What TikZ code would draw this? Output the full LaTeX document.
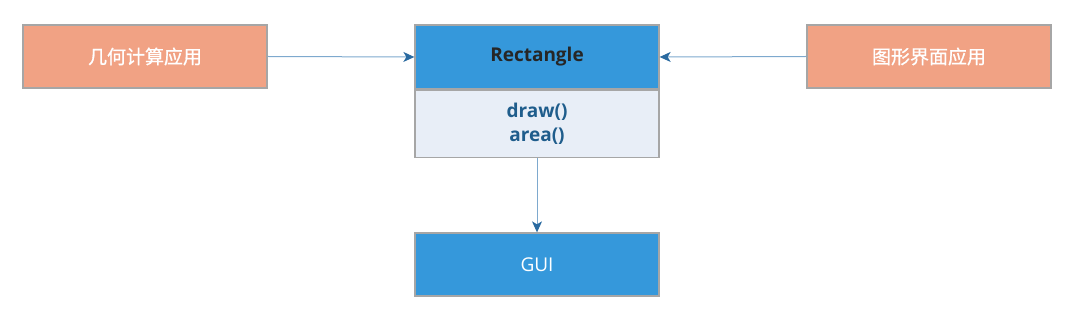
\documentclass[tikz,border=0pt]{standalone}
\usepackage{fontspec}
\setmainfont{Open Sans}
\newfontfamily\cjk[BoldFont={Noto Sans CJK SC}, BoldFeatures={FakeBold=0.8}]{Noto Sans CJK SC}
\usepackage{xcolor}
\usetikzlibrary{arrows.meta, positioning}

\definecolor{appfill}{HTML}{F1A284}
\definecolor{classblue}{HTML}{3598DB}
\definecolor{bodyfill}{HTML}{E8EEF7}
\definecolor{edgegray}{HTML}{A6A6A6}
\definecolor{methodtext}{HTML}{1F5D8C}
\definecolor{linkline}{HTML}{7EA9CE}
\definecolor{linkhead}{HTML}{2A6AA0}

\begin{document}
\begin{tikzpicture}[
    x=1pt, y=-1pt,
    box/.style={
        draw=edgegray,
        line width=1.3pt,
        minimum width=244pt,
        minimum height=63pt,
        inner sep=0pt,
        align=center
    },
    app/.style={box, fill=appfill, text=white, font=\cjk\bfseries\fontsize{19}{22}\selectfont},
    head/.style={box, fill=classblue, minimum height=64pt, font=\fontsize{19}{22}\selectfont\bfseries, text=black!85},
    body/.style={box, fill=bodyfill, minimum height=67pt, font=\fontsize{19}{24}\selectfont\bfseries, text=methodtext},
    link/.style={draw=linkline, line width=1pt, -{Stealth[length=11pt, width=10pt, inset=3pt, color=linkhead]}}
]

\useasboundingbox (0,0) rectangle (1076,320);

\node[head] (rect) at (537,57) {Rectangle};
\node[body, below=0pt of rect] (methods) {draw()\\area()};
\node[head, font=\fontsize{19}{22}\selectfont, text=white, minimum height=63pt] (gui) at (537,264.5) {GUI};

\node[app] (geom) at (145,56.5) {几何计算应用};
\node[app] (guiapp) at (929,56.5) {图形界面应用};

\draw[link] (geom.east) -- (rect.west);
\draw[link] (guiapp.west) -- (rect.east);
\draw[link] (methods.south) -- (gui.north);

\end{tikzpicture}
\end{document}
